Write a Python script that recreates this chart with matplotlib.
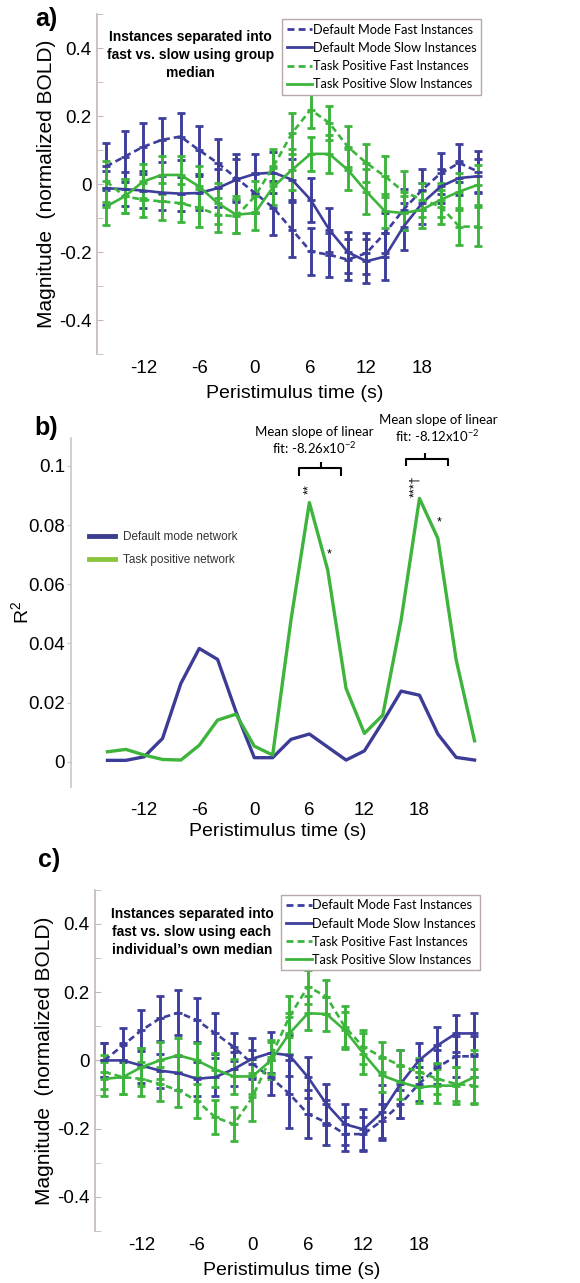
import matplotlib
matplotlib.use("Agg")
import matplotlib.pyplot as plt
from matplotlib.lines import Line2D
from matplotlib.ticker import MultipleLocator

# peristimulus time (s)
t = [-16, -14, -12, -10, -8, -6, -4, -2, 0, 2, 4, 6, 8, 10, 12, 14, 16, 18, 20, 22, 24]

# panel a: split by group median
a_dm_fast = [0.052, 0.081, 0.11, 0.13, 0.14, 0.10, 0.062, 0.018, -0.026, -0.07, -0.134,
             -0.198, -0.208, -0.222, -0.203, -0.144, -0.075, -0.017, 0.032, 0.062, 0.037]
a_dm_slow = [-0.012, -0.015, -0.019, -0.025, -0.028, -0.026, -0.012, 0.013, 0.03, 0.034, 0.013,
             -0.046, -0.134, -0.2, -0.227, -0.213, -0.125, -0.056, -0.007, 0.018, 0.023]
a_tp_fast = [0.008, -0.036, -0.046, -0.051, -0.056, -0.07, -0.09, -0.095, -0.036, 0.052, 0.15,
             0.219, 0.18, 0.11, 0.062, 0.023, -0.022, -0.046, -0.066, -0.125, -0.125]
a_tp_slow = [-0.066, -0.036, 0.008, 0.027, 0.027, -0.007, -0.056, -0.09, -0.085, -0.007, 0.042,
             0.089, 0.089, 0.042, -0.022, -0.08, -0.085, -0.075, -0.046, -0.022, -0.002]
a_dm_fast_err = [0.07, 0.075, 0.07, 0.065, 0.07, 0.07, 0.07, 0.07, 0.06, 0.08, 0.08,
                 0.07, 0.065, 0.06, 0.06, 0.06, 0.06, 0.06, 0.06, 0.055, 0.06]
a_dm_slow_err = [0.05, 0.05, 0.05, 0.05, 0.05, 0.05, 0.055, 0.06, 0.06, 0.06, 0.06,
                 0.065, 0.065, 0.06, 0.065, 0.07, 0.07, 0.06, 0.05, 0.05, 0.05]
a_tp_fast_err = [0.06, 0.05, 0.05, 0.055, 0.055, 0.055, 0.05, 0.05, 0.045, 0.05, 0.06,
                 0.055, 0.05, 0.06, 0.055, 0.06, 0.06, 0.05, 0.05, 0.055, 0.058]
a_tp_slow_err = [0.055, 0.05, 0.05, 0.055, 0.055, 0.06, 0.06, 0.055, 0.05, 0.055, 0.06,
                 0.05, 0.055, 0.06, 0.065, 0.05, 0.05, 0.055, 0.05, 0.055, 0.058]

# panel b: R^2
b_dmn = [0.0005, 0.0005, 0.0017, 0.0079, 0.0265, 0.0383, 0.0346, 0.017, 0.0014, 0.0014, 0.0076,
         0.0094, 0.005, 0.0006, 0.0037, 0.0135, 0.0239, 0.0225, 0.0094, 0.0015, 0.0006]
b_tpn = [0.0034, 0.0042, 0.0023, 0.0008, 0.0006, 0.0056, 0.0141, 0.0161, 0.0053, 0.0023, 0.048,
         0.0876, 0.0648, 0.0248, 0.0096, 0.0158, 0.0479, 0.089, 0.0755, 0.0344, 0.0071]

# panel c: split by each individual's own median
c_dm_fast = [0.0, 0.044, 0.088, 0.123, 0.14, 0.118, 0.079, 0.039, -0.01, -0.05, -0.098,
             -0.157, -0.182, -0.216, -0.216, -0.177, -0.128, -0.069, -0.02, 0.012, 0.012]
c_dm_slow = [0.0, 0.0, -0.015, -0.03, -0.037, -0.054, -0.049, -0.025, 0.005, 0.022, 0.015,
             -0.049, -0.128, -0.187, -0.202, -0.152, -0.069, 0.0, 0.044, 0.079, 0.079]
c_tp_fast = [-0.034, -0.049, -0.054, -0.069, -0.088, -0.118, -0.167, -0.187, -0.108, 0.01, 0.128,
             0.216, 0.187, 0.098, 0.039, 0.01, -0.015, -0.034, -0.054, -0.069, -0.074]
c_tp_slow = [-0.054, -0.049, -0.02, 0.0, 0.015, 0.0, -0.027, -0.047, -0.047, 0.0, 0.079,
             0.138, 0.136, 0.088, 0.02, -0.044, -0.064, -0.079, -0.074, -0.074, -0.049]
c_dm_fast_err = [0.05, 0.05, 0.06, 0.065, 0.066, 0.065, 0.06, 0.04, 0.04, 0.05, 0.1,
                 0.07, 0.065, 0.05, 0.05, 0.05, 0.04, 0.05, 0.05, 0.06, 0.06]
c_dm_slow_err = [0.05, 0.05, 0.05, 0.05, 0.05, 0.05, 0.055, 0.05, 0.06, 0.06, 0.06,
                 0.06, 0.06, 0.06, 0.06, 0.08, 0.1, 0.05, 0.055, 0.055, 0.06]
c_tp_fast_err = [0.05, 0.05, 0.05, 0.05, 0.05, 0.05, 0.05, 0.05, 0.07, 0.05, 0.06,
                 0.05, 0.05, 0.06, 0.05, 0.045, 0.045, 0.04, 0.045, 0.05, 0.05]
c_tp_slow_err = [0.05, 0.05, 0.055, 0.055, 0.05, 0.05, 0.05, 0.05, 0.05, 0.055, 0.06,
                 0.05, 0.05, 0.055, 0.06, 0.05, 0.05, 0.045, 0.05, 0.055, 0.08]

x_ticks = [-12, -6, 0, 6, 12, 18]
legend_labels = ["Default Mode Fast Instances", "Default Mode Slow Instances",
                 "Task Positive Fast Instances", "Task Positive Slow Instances"]

BLUE = "#3e3e9c"
GREEN = "#3db53d"
SPINE = "#c4b8b8"
ARIAL = ["Liberation Sans", "DejaVu Sans"]
CALIBRI = ["Lato", "DejaVu Sans"]

plt.rcParams["font.family"] = ARIAL
plt.rcParams["axes.unicode_minus"] = False

fig = plt.figure(figsize=(5.8, 12.83), dpi=100)


def bold_panel(ax_rect, dm_fast, dm_slow, tp_fast, tp_slow, errs, note, note_xy, leg_anchor):
    ax = fig.add_axes(ax_rect)
    series = [(dm_fast, errs[0], BLUE, (0, (2.5, 1.5))),
              (dm_slow, errs[1], BLUE, "-"),
              (tp_fast, errs[2], GREEN, (0, (2.5, 1.5))),
              (tp_slow, errs[3], GREEN, "-")]
    for y, e, col, ls in series:
        ax.errorbar(t, y, yerr=e, color=col, ls=ls, lw=1.9, elinewidth=2.1,
                    capsize=3, capthick=2.1, marker="_", ms=6, mew=2)
    ax.set_xlim(-17, 25.5)
    ax.set_ylim(-0.5, 0.5)
    ax.set_xticks(x_ticks)
    ax.set_yticks([-0.4, -0.2, 0, 0.2, 0.4])
    ax.set_yticklabels(["-0.4", "-0.2", "0", "0.2", "0.4"])
    ax.yaxis.set_minor_locator(MultipleLocator(0.1))
    for s in ["top", "right", "bottom"]:
        ax.spines[s].set_visible(False)
    ax.spines["left"].set_color(SPINE)
    ax.spines["left"].set_linewidth(1.2)
    ax.tick_params(axis="y", which="both", direction="in", color=SPINE, length=4, labelsize=13.5, pad=4)
    ax.tick_params(axis="x", length=0, labelsize=13.5, pad=4)
    ax.set_xlabel("Peristimulus time (s)", fontsize=14, labelpad=6)
    ax.set_ylabel("Magnitude  (normalized BOLD)", fontsize=15, labelpad=2)
    fig.text(note_xy[0], note_xy[1], note, ha="center", va="center", fontsize=10,
             fontweight="bold", linespacing=1.35)
    handles = [Line2D([], [], color=c, ls=l, lw=2) for _, _, c, l in series]
    leg = ax.legend(handles, legend_labels, loc="upper right", bbox_to_anchor=leg_anchor,
                    bbox_transform=fig.transFigure, borderaxespad=0, fancybox=False,
                    framealpha=1, edgecolor="#b8a8a8", handlelength=2.0, handletextpad=0.05,
                    labelspacing=0.48, borderpad=0.35, prop={"family": CALIBRI, "size": 9.2})
    leg.get_frame().set_linewidth(1.0)
    return ax


# ---- panel a
bold_panel([0.167, 0.724, 0.681, 0.265], a_dm_fast, a_dm_slow, a_tp_fast, a_tp_slow,
           [a_dm_fast_err, a_dm_slow_err, a_tp_fast_err, a_tp_slow_err],
           "Instances separated into\nfast vs. slow using group\nmedian", (0.328, 0.957),
           (0.829, 0.985))
fig.text(0.060, 0.985, "a)", fontsize=18, fontweight="bold", va="center")

# ---- panel b
axb = fig.add_axes([0.122, 0.3866, 0.712, 0.272])
axb.plot(t, b_dmn, color="#3c3c96", lw=2.4)
axb.plot(t, b_tpn, color="#3fb43c", lw=2.4)
axb.set_xlim(-20, 25)
axb.set_ylim(-0.0085, 0.1094)
axb.set_xticks(x_ticks)
axb.set_yticks([0, 0.02, 0.04, 0.06, 0.08, 0.1])
axb.set_yticklabels(["0", "0.02", "0.04", "0.06", "0.08", "0.1"])
for s in ["top", "right", "bottom"]:
    axb.spines[s].set_visible(False)
axb.spines["left"].set_color("#c8c8c8")
axb.spines["left"].set_linewidth(1.2)
axb.tick_params(axis="y", direction="out", color="#c8c8c8", length=3, labelsize=13.5, pad=1)
axb.tick_params(axis="x", length=0, labelsize=13.5, pad=11)
axb.set_xlabel("Peristimulus time (s)", fontsize=14, labelpad=3)
axb.set_ylabel("R$^{\\mathregular{2}}$", fontsize=14, labelpad=-3)
hb = [Line2D([], [], color="#3d3d8f", lw=3.5), Line2D([], [], color="#8cc43f", lw=3.5)]
axb.legend(hb, ["Default mode network", "Task positive network"], loc="upper left",
           bbox_to_anchor=(0.153, 0.586), bbox_transform=fig.transFigure, frameon=False,
           borderaxespad=0, borderpad=0, handlelength=2.2, handletextpad=0.7,
           labelspacing=0.95, prop={"size": 8.5}, labelcolor="#333333")

# brackets and significance marks
bk = dict(color="black", lw=1.5, clip_on=False, solid_capstyle="butt")
axb.plot([4.9, 4.9, 9.5, 9.5], [0.0964, 0.0993, 0.0993, 0.0964], **bk)
axb.plot([7.25, 7.25], [0.0993, 0.1012], **bk)
axb.plot([16.5, 16.5, 21.1, 21.1], [0.1000, 0.1023, 0.1023, 0.1000], **bk)
axb.plot([18.6, 18.6], [0.1023, 0.1045], **bk)
axb.text(6.5, 0.1085, "Mean slope of linear\nfit: -8.26x10$^{\\mathregular{-2}}$", ha="center",
         va="center", fontsize=9.5, family=CALIBRI, linespacing=1.15, clip_on=False)
axb.text(20.0, 0.1125, "Mean slope of linear\nfit: -8.12x10$^{\\mathregular{-2}}$", ha="center",
         va="center", fontsize=9.5, family=CALIBRI, linespacing=1.15, clip_on=False)
axb.text(6.0, 0.0905, "**", rotation=90, ha="center", va="bottom", fontsize=9)
axb.text(17.5, 0.0895, "***\u2020", rotation=90, ha="center", va="bottom", fontsize=9)
axb.text(8.2, 0.0700, "*", ha="center", va="center", fontsize=9)
axb.text(20.2, 0.0810, "*", ha="center", va="center", fontsize=9)
fig.text(0.060, 0.6664, "b)", fontsize=18, fontweight="bold", va="center")

# ---- panel c
bold_panel([0.164, 0.0405, 0.678, 0.266], c_dm_fast, c_dm_slow, c_tp_fast, c_tp_slow,
           [c_dm_fast_err, c_dm_slow_err, c_tp_fast_err, c_tp_slow_err],
           "Instances separated into\nfast vs. slow using each\nindividual\u2019s own median",
           (0.331, 0.2736), (0.828, 0.3024))
fig.text(0.066, 0.3297, "c)", fontsize=18, fontweight="bold", va="center")

fig.savefig("out.png", dpi=100)
